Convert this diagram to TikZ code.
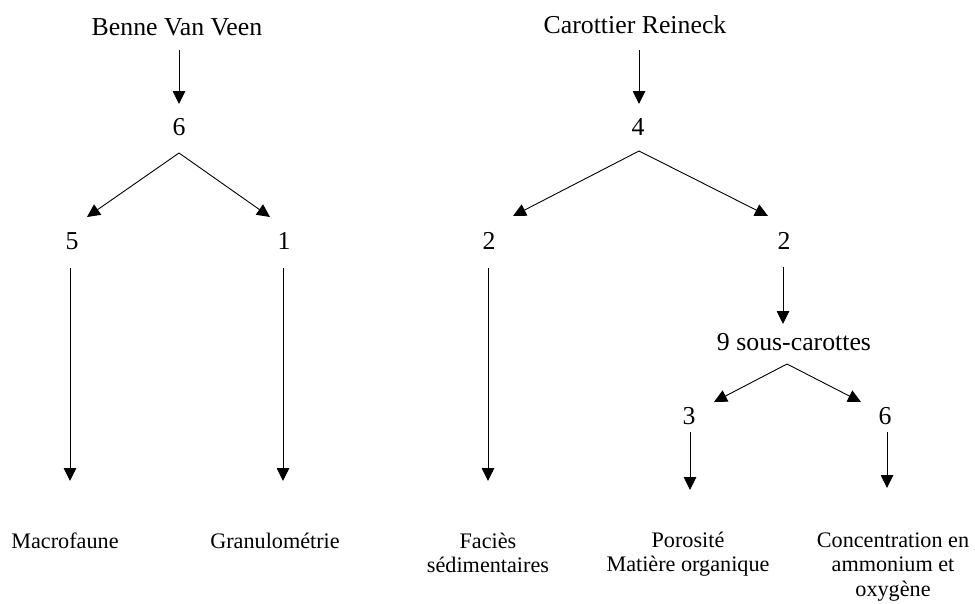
\documentclass[tikz,border=0pt]{standalone}
\usepackage{fontspec}
\setmainfont{Liberation Serif}
\usetikzlibrary{arrows.meta,calc}
\newcommand\mlines[1]{\begin{tabular}[t]{@{}c@{}}#1\end{tabular}}
\begin{document}
\begin{tikzpicture}[x=1pt,y=-1pt,
  bigtxt/.style={font=\fontsize{25.8}{30}\selectfont, inner sep=0pt, anchor=base},
  smalltxt/.style={font=\fontsize{22.2}{24.5}\selectfont, inner sep=0pt, anchor=base},
  arr/.style={line width=0.9pt, -{Triangle[length=13pt,width=12.5pt]}}]
\useasboundingbox (0,0) rectangle (975,603);
% left tree
\node[bigtxt] (benne) at (177,35) {Benne Van Veen};
\node[bigtxt] (l6) at (179,135) {6};
\node[bigtxt] (l5) at (72,249) {5};
\node[bigtxt] (l1) at (284,249) {1};
\node[smalltxt] (macro) at (65,548) {Macrofaune};
\node[smalltxt] (granu) at (275,548) {Granulométrie};
% right tree
\node[bigtxt] (caro) at (635,33) {Carottier Reineck};
\node[bigtxt] (r4) at (638,135) {4};
\node[bigtxt] (r2a) at (489,249) {2};
\node[bigtxt] (r2b) at (784,249) {2};
\node[smalltxt] (facies) at (488,548) {\mlines{Faciès\\sédimentaires}};
\node[bigtxt] (sous) at (794,350) {9 sous-carottes};
\node[bigtxt] (r3) at (689,424) {3};
\node[bigtxt] (r6) at (885,424) {6};
\node[smalltxt] (poro) at (688,547) {\mlines{Porosité\\Matière organique}};
\node[smalltxt] (conc) at (893,547) {\mlines{Concentration en\\ammonium et\\oxygène}};
% connectors
\draw[arr] ($(benne.base)+(2,15)$) -- ($(l6.base)+(0,-31)$);
\draw[arr] ($(l6.base)+(0,18)$) -- ($(l5.base)+(15,-32)$);
\draw[arr] ($(l6.base)+(0,18)$) -- ($(l1.base)+(-14,-32)$);
\draw[arr] ($(l5.base)+(-2,19)$) -- ($(macro.base)+(5,-67)$);
\draw[arr] ($(l1.base)+(-1,19)$) -- ($(granu.base)+(8,-67)$);
\draw[arr] ($(caro.base)+(4,17)$) -- ($(r4.base)+(1,-31)$);
\draw[arr] ($(r4.base)+(1,16)$) -- ($(r2a.base)+(24,-33)$);
\draw[arr] ($(r4.base)+(1,16)$) -- ($(r2b.base)+(-16,-33)$);
\draw[arr] ($(r2a.base)+(-1,19)$) -- ($(facies.base)+(0,-67)$);
\draw[arr] ($(r2b.base)+(-1,18)$) -- ($(sous.base)+(-11,-26)$);
\draw[arr] ($(sous.base)+(-7,14)$) -- ($(r3.base)+(25,-22)$);
\draw[arr] ($(sous.base)+(-7,14)$) -- ($(r6.base)+(-24,-22)$);
\draw[arr] ($(r3.base)+(1,8)$) -- ($(poro.base)+(2,-57)$);
\draw[arr] ($(r6.base)+(2,8)$) -- ($(conc.base)+(-6,-59)$);
\end{tikzpicture}
\end{document}
